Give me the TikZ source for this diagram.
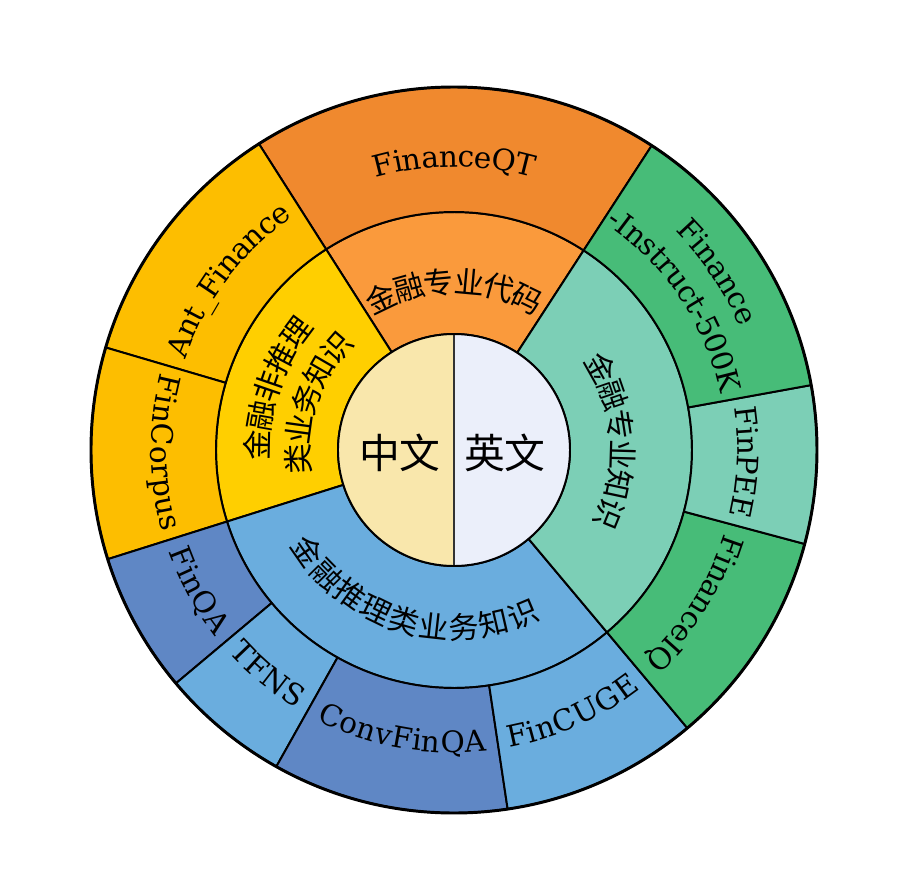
\documentclass[tikz,border=0pt]{standalone}
\usepackage{fontspec}
\setmainfont{DejaVu Serif}
\newfontfamily\cjk{Noto Sans CJK SC}
\usetikzlibrary{decorations.text}

\definecolor{zhfill}{HTML}{F9E7AC}
\definecolor{enfill}{HTML}{EBEFFA}
\definecolor{orangemid}{HTML}{FA9A3C}
\definecolor{orangeout}{HTML}{F0892E}
\definecolor{yellowmid}{HTML}{FFCF00}
\definecolor{yellowout}{HTML}{FDBE00}
\definecolor{greenmid}{HTML}{7CCFB6}
\definecolor{greenout}{HTML}{47BC78}
\definecolor{bluemid}{HTML}{6AADDE}
\definecolor{blueout}{HTML}{5F87C5}

\newcommand\enfont{\fontsize{21}{25}\selectfont}
\newcommand\zhfont{\cjk\fontsize{21.5}{25}\selectfont}
% ring segment: colour, from angle, to angle, inner radius, outer radius
\newcommand\ringpart[5]{%
  \draw[seg, fill=#1] (#2:#4) arc[start angle=#2, end angle=#3, radius=#4]
    -- (#3:#5) arc[start angle=#3, end angle=#2, radius=#5] -- cycle;}

\begin{document}
\begin{tikzpicture}[
		x=0.025cm, y=0.025cm,
		seg/.style={draw=black, line width=1.4pt, line join=round},
		entext/.style={decorate, decoration={text along path, text align=center, raise=-7pt, text={|\enfont|#1}}},
		zhtext/.style={decorate, decoration={text along path, text align=center, raise=-8pt, text={|\zhfont|#1}}}
	]
		\useasboundingbox (-454,-440) rectangle (462,450);

		% Middle ring
		\ringpart{orangemid}{57}{122.5}{116}{238}
		\ringpart{yellowmid}{122.5}{197.5}{116}{238}
		\ringpart{bluemid}{197.5}{310}{116}{238}
		\ringpart{greenmid}{-50}{57}{116}{238}

		% Outer ring
		\ringpart{orangeout}{57}{122.5}{238}{363}
		\ringpart{yellowout}{122.5}{163.6}{238}{363}
		\ringpart{yellowout}{163.6}{197.5}{238}{363}
		\ringpart{blueout}{197.5}{220}{238}{363}
		\ringpart{bluemid}{220}{240.7}{238}{363}
		\ringpart{blueout}{240.7}{278.5}{238}{363}
		\ringpart{bluemid}{278.5}{310}{238}{363}
		\ringpart{greenout}{-50}{-15}{238}{363}
		\ringpart{greenmid}{-15}{10.3}{238}{363}
		\ringpart{greenout}{10.3}{57}{238}{363}
		\draw[line width=2.1pt] (0,0) circle[radius=363];

		% Centre
		\fill[zhfill] (90:116) arc[start angle=90, end angle=270, radius=116] -- cycle;
		\fill[enfill] (-90:116) arc[start angle=-90, end angle=90, radius=116] -- cycle;
		\draw[line width=1pt, black!80] (90:116) -- (-90:116);
		\draw[line width=1.4pt] (0,0) circle[radius=116];
		\node[font=\cjk\fontsize{29}{33}\selectfont] (zh) at (-54,-3) {中文};
		\node[font=\cjk\fontsize{29}{33}\selectfont] (en) at (51,-3) {英文};

		% Middle ring labels
		\path[zhtext={金融专业代码}] (160:168) arc[start angle=160, end angle=20, radius=168];
		\path[zhtext={金融非推理}] (231:196) arc[start angle=231, end angle=91, radius=196];
		\path[zhtext={类业务知识}] (231:156) arc[start angle=231, end angle=91, radius=156];
		\path[zhtext={金融推理类业务知识}] (183.75:178) arc[start angle=183.75, end angle=323.75, radius=178];
		\path[zhtext={金融专业知识}] (73.5:168) arc[start angle=73.5, end angle=-66.5, radius=168];

		% Outer ring labels
		\path[entext={FinanceQT}] (160:293) arc[start angle=160, end angle=20, radius=293];
		\path[entext={Ant{\_}Finance}] (213:293) arc[start angle=213, end angle=73, radius=293];
		\path[entext={FinCorpus}] (110.5:293) arc[start angle=110.5, end angle=250.5, radius=293];
		\path[entext={FinQA}] (138.75:293) arc[start angle=138.75, end angle=278.75, radius=293];
		\path[entext={TFNS}] (160.35:293) arc[start angle=160.35, end angle=300.35, radius=293];
		\path[entext={ConvFinQA}] (189.6:293) arc[start angle=189.6, end angle=329.6, radius=293];
		\path[entext={FinCUGE}] (224.25:293) arc[start angle=224.25, end angle=364.25, radius=293];
		\path[entext={FinanceIQ}] (397.5:293) arc[start angle=397.5, end angle=257.5, radius=293];
		\path[entext={FinPEE}] (67.65:293) arc[start angle=67.65, end angle=-72.35, radius=293];
		\path[entext={Finance}] (104:321) arc[start angle=104, end angle=-36, radius=321];
		\path[entext={-Instruct-500K}] (104:282) arc[start angle=104, end angle=-36, radius=282];
	\end{tikzpicture}
\end{document}
